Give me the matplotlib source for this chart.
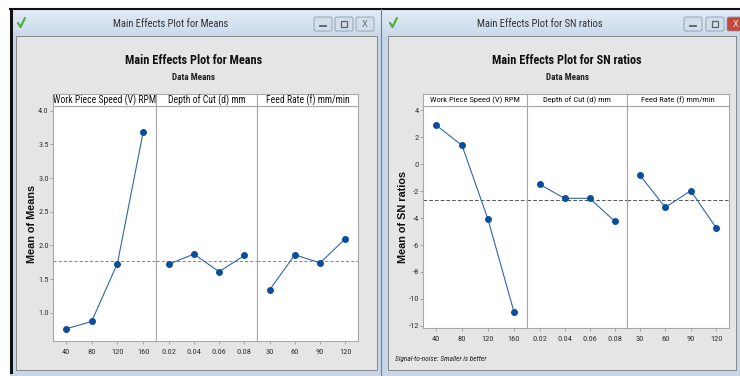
import matplotlib
matplotlib.use('Agg')
import matplotlib.pyplot as plt
import numpy as np
from matplotlib import font_manager
from matplotlib.patches import Rectangle, FancyBboxPatch
from matplotlib.colors import LinearSegmentedColormap

# ---- data ----
factor_names = ['Work Piece Speed (V) RPM', 'Depth of Cut (d) mm', 'Feed Rate (f) mm/min']
speed_levels = ['40', '80', '120', '160']
depth_levels = ['0.02', '0.04', '0.06', '0.08']
feed_levels = ['30', '60', '90', '120']

means_speed = [0.76, 0.87, 1.73, 3.68]
means_depth = [1.72, 1.87, 1.61, 1.85]
means_feed = [1.34, 1.86, 1.74, 2.10]

sn_speed = [2.89, 1.38, -4.10, -10.96]
sn_depth = [-1.50, -2.54, -2.54, -4.22]
sn_feed = [-0.81, -3.21, -1.98, -4.74]

means_yticks = [1.0, 1.5, 2.0, 2.5, 3.0, 3.5, 4.0]
sn_yticks = [-12, -10, -8, -6, -4, -2, 0, 2, 4]

W, H = 740, 376
avail = {f.name for f in font_manager.fontManager.ttflist}
NARROW = next((n for n in ['Liberation Sans Narrow', 'DejaVu Sans Condensed', 'Roboto Condensed']
               if n in avail), 'Liberation Sans')
REG = 'Liberation Sans' if 'Liberation Sans' in avail else 'DejaVu Sans'

fig = plt.figure(figsize=(W / 100, H / 100), dpi=100)
fig.patch.set_facecolor('white')

# background axes in pixel coordinates for the window chrome
bg = fig.add_axes([0, 0, 1, 1])
bg.axis('off')


def rect(x0, y0, x1, y1, **kw):
    bg.add_patch(Rectangle((x0, y0), x1 - x0, y1 - y0, **kw))


def pax(x0, y0, x1, y1):
    return fig.add_axes([x0 / W, 1 - y1 / H, (x1 - x0) / W, (y1 - y0) / H])


bar_cmap = LinearSegmentedColormap.from_list('bar', ['#e3ecf6', '#c9d9ea'])
grad = np.linspace(0, 1, 50).reshape(-1, 1)


def window(x0, x1, title, title_x, close_red):
    # frame
    rect(x0, 9, x1, 376, facecolor='#c6d7e9', edgecolor='none')
    bg.imshow(grad, extent=(x0, x1, 36, 9), aspect='auto', cmap=bar_cmap, zorder=1)
    rect(x0 + 6, 36, x1 - 4, 370, facecolor='#e5e5e5', edgecolor='#7a7a7a', lw=0.6, zorder=2)
    bg.text(title_x, 24, title, fontsize=7.6, family=NARROW, color='#333333',
            ha='center', va='center', zorder=3)
    # check mark
    bg.plot([x0 + 8, x0 + 10.5, x0 + 15], [23, 27, 18], color='#52b043', lw=1.6,
            solid_capstyle='round', zorder=3)
    # buttons
    bx = [x1 - 67, x1 - 46, x1 - 25] if not close_red else [x1 - 56, x1 - 34, x1 - 13]
    for i, b in enumerate(bx):
        fc = '#c9463d' if (close_red and i == 2) else '#d3deea'
        bg.add_patch(FancyBboxPatch((b, 17), 18, 14, boxstyle='round,pad=0,rounding_size=2',
                                    facecolor=fc, edgecolor='#8a9bb0', lw=0.6, zorder=3))
        gc = 'white' if (close_red and i == 2) else '#5a6470'
        if i == 0:
            bg.plot([b + 6, b + 12], [25.5, 25.5], color=gc, lw=1.3, zorder=4)
        elif i == 1:
            rect(b + 6, 21, b + 12, 27, facecolor='none', edgecolor=gc, lw=0.9, zorder=4)
        else:
            bg.text(b + 9, 24.5, 'X', fontsize=6, color=gc, ha='center', va='center', zorder=4)


window(10, 381, 'Main Effects Plot for Means', 171, False)
window(382, 740, 'Main Effects Plot for SN ratios', 540, True)
# dark screenshot borders
bg.plot([10, 740], [8.5, 8.5], color='#111111', lw=1.5, zorder=5)
bg.plot([11, 11], [8.5, 372], color='#111111', lw=2.2, zorder=5)
bg.plot([381, 381], [8.5, 376], color='#6f7f90', lw=0.8, zorder=5)
bg.set_xlim(0, W)
bg.set_ylim(H, 0)


def main_effects(xs, y_hdr, y_top, y_bot, series, levels, ylim, yticks, yfmt,
                 ylabel, ylabel_x, hdr_size, ref_color, ref_dash):
    grand = np.mean(np.concatenate([np.asarray(s) for s in series]))
    axes = []
    for k in range(3):
        ax = pax(xs[k], y_top, xs[k + 1], y_bot)
        ax.set_facecolor('white')
        pos = np.arange(len(levels[k]))
        ax.plot(pos, series[k], color='#2f67a5', lw=0.8, marker='o', ms=4,
                mfc='#0b4f9c', mec='#0b4f9c')
        ax.axhline(grand, color=ref_color, ls=ref_dash, lw=0.75, zorder=0)
        ax.set_xlim(-0.5, len(levels[k]) - 0.5)
        ax.set_ylim(*ylim)
        ax.set_xticks(pos)
        ax.set_xticklabels(levels[k], fontsize=6, family=NARROW, color='#333333')
        ax.set_yticks(yticks)
        ax.tick_params(axis='x', length=2, width=0.6, color='#999999', pad=3.5)
        if k == 0:
            ax.set_yticklabels([yfmt.format(v) for v in yticks], fontsize=6,
                               family=NARROW, color='#333333')
            ax.tick_params(axis='y', length=2, width=0.6, color='#999999', pad=1)
        else:
            ax.tick_params(axis='y', left=False, labelleft=False, length=0)
        for s in ax.spines.values():
            s.set_color('#a8a8a8')
            s.set_linewidth(0.8)
        # header strip
        hd = pax(xs[k], y_hdr, xs[k + 1], y_top)
        hd.set_facecolor('white')
        hd.set_xticks([])
        hd.set_yticks([])
        for s in hd.spines.values():
            s.set_color('#a8a8a8')
            s.set_linewidth(0.8)
        hd.text(0.5, 0.45, factor_names[k], fontsize=hdr_size, family=NARROW, color='#111111',
                ha='center', va='center', transform=hd.transAxes)
        axes.append(ax)
    fig.text(ylabel_x / W, 1 - (y_top + y_bot) / 2 / H, ylabel, rotation=90, fontsize=7.8,
             fontweight='bold', family=REG, color='#111111', ha='center', va='center')
    return axes


main_effects([53, 156, 257, 358], 94, 106, 341,
             [means_speed, means_depth, means_feed],
             [speed_levels, depth_levels, feed_levels],
             (0.58, 4.07), means_yticks, '{:.1f}', 'Mean of Means', 32, 6.9,
             '#8a8a8a', (0, (3, 2)))
main_effects([423, 527, 627, 729], 94, 106, 328,
             [sn_speed, sn_depth, sn_feed],
             [speed_levels, depth_levels, feed_levels],
             (-12.15, 4.3), sn_yticks, '{:d}', 'Mean of SN ratios', 403, 6.1,
             '#5a5a5a', (0, (3.5, 2)))

# chart titles
for cx, t in [(194, 'Main Effects Plot for Means'), (567, 'Main Effects Plot for SN ratios')]:
    fig.text(cx / W, 1 - 61 / H, t, fontsize=8.8, fontweight='bold', family=NARROW,
             color='#111111', ha='center', va='center')
    fig.text(cx / W, 1 - 77 / H, 'Data Means', fontsize=6.6, fontweight='bold', family=NARROW,
             color='#222222', ha='center', va='center')

fig.text(395 / W, 1 - 359 / H, 'Signal-to-noise: Smaller is better', fontsize=5.3,
         style='italic', family=NARROW, color='#222222', ha='left', va='center')

fig.savefig('out.png', dpi=100)
